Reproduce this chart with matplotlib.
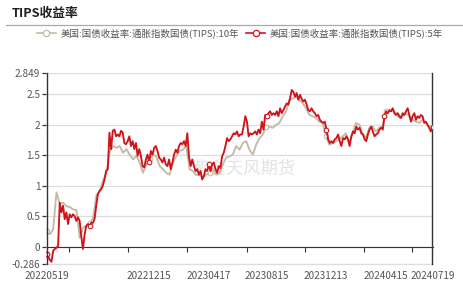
import matplotlib
matplotlib.use("Agg")
import matplotlib.pyplot as plt
import matplotlib.dates as mdates
from matplotlib.lines import Line2D
import pandas as pd

plt.rcParams['font.family'] = ['Noto Sans CJK SC', 'DejaVu Sans']

start_date = '2022-05-19'
end_date = '2024-07-19'

# 5Y TIPS yield
tips_5y = [
    -0.13, -0.16, -0.22, -0.25, -0.07, -0.04, -0.02, 0.01, 0.72, 0.56,
    0.67, 0.45, 0.56, 0.37, 0.53, 0.48, 0.53, 0.50, 0.42, 0.48,
    0.42, 0.17, -0.04, 0.20, 0.34, 0.37, 0.34, 0.39, 0.39, 0.45,
    0.67, 0.86, 0.91, 0.94, 1.00, 1.10, 1.24, 1.27, 1.87, 1.60,
    1.90, 1.92, 1.81, 1.84, 1.81, 1.90, 1.87, 1.70, 1.68, 1.73,
    1.81, 1.65, 1.73, 1.60, 1.70, 1.49, 1.60, 1.49, 1.32, 1.30,
    # 2022-11 .. 2023-05
    1.43, 1.51, 1.38, 1.57, 1.51, 1.62, 1.65, 1.57, 1.46, 1.43,
    1.38, 1.46, 1.35, 1.32, 1.43, 1.27, 1.38, 1.51, 1.59, 1.54,
    1.65, 1.70, 1.68, 1.73, 1.65, 1.86, 1.48, 1.32, 1.43, 1.32,
    1.24, 1.27, 1.18, 1.24, 1.10, 1.16, 1.27, 1.24, 1.35, 1.24,
    1.35, 1.38, 1.27, 1.21, 1.32, 1.29, 1.48, 1.54, 1.65, 1.78,
    1.73, 1.76, 1.81, 1.86, 1.84, 1.89, 1.81, 1.84,
    # 2023-06 .. 2023-12
    1.84, 1.97, 2.14, 2.05, 1.81, 1.86, 1.84, 1.86, 1.89, 1.84,
    1.92, 1.86, 2.05, 1.92, 2.16, 2.14, 2.19, 2.22, 2.16, 2.19,
    2.16, 2.22, 2.14, 2.27, 2.19, 2.24, 2.30, 2.35, 2.33, 2.43,
    2.57, 2.54, 2.46, 2.52, 2.41, 2.49, 2.43, 2.38, 2.41, 2.33,
    2.24, 2.22, 2.27, 2.22, 2.19, 2.14, 2.16, 2.08, 2.05, 2.03,
    2.05, 1.92, 1.76, 1.70, 1.73, 1.70, 1.76, 1.78,
    # 2023-12 .. 2024-07
    1.84, 1.73, 1.65, 1.78, 1.76, 1.81, 1.76, 1.65, 1.81, 1.89,
    1.86, 1.97, 1.92, 1.95, 1.86, 1.84, 1.76, 1.73, 1.84, 1.92,
    1.97, 1.89, 1.81, 1.84, 1.86, 1.92, 1.95, 1.92, 2.14, 2.22,
    2.19, 2.24, 2.22, 2.27, 2.19, 2.16, 2.19, 2.14, 2.11, 2.19,
    2.16, 2.22, 2.27, 2.16, 2.05, 2.14, 2.19, 2.08, 2.14, 2.11,
    2.16, 2.14, 2.03, 2.05, 2.00, 1.95, 1.89, 1.97,
]

# 10Y TIPS yield
tips_10y = [
    0.26, 0.20, 0.28, 0.89, 0.70, 0.72, 0.66, 0.65, 0.61, 0.60,
    0.14, 0.31, 0.34, 0.38, 0.47, 0.84, 0.92, 1.08, 1.22, 1.56,
    1.65, 1.62, 1.65, 1.54, 1.60, 1.51, 1.43, 1.49, 1.38, 1.21,
    1.35, 1.43, 1.51, 1.48, 1.32, 1.27, 1.21, 1.18, 1.38, 1.48,
    1.57, 1.59, 1.65, 1.27, 1.24, 1.17, 1.18, 1.13, 1.18, 1.21,
    1.27, 1.18, 1.21, 1.35, 1.46, 1.48, 1.51, 1.65, 1.59,
    1.70, 1.73, 1.59, 1.51, 1.67, 1.78, 1.84, 1.97, 1.97, 1.95,
    2.00, 2.03, 2.14, 2.22, 2.41, 2.43, 2.46, 2.41, 2.35, 2.27,
    2.16, 2.14, 2.11, 2.05, 2.03, 1.82, 1.67, 1.70, 1.73,
    1.76, 1.81, 1.86, 1.70, 1.86, 2.03, 2.00, 1.86, 1.78, 1.95,
    1.97, 1.89, 1.95, 1.97, 2.22, 2.22, 2.24, 2.19, 2.11, 2.14,
    2.19, 2.14, 2.08, 2.05, 2.03, 2.08, 2.03, 1.97, 1.97,
]

label_dates = ['2022-05-19', '2022-12-15', '2023-04-17', '2023-08-15',
               '2023-12-13', '2024-04-15', '2024-07-19']
tick_dates = ['2022-07-05', '2022-11-03', '2023-03-03', '2023-07-04',
              '2023-10-31', '2024-02-29', '2024-06-06']
y_ticks = [-0.286, 0, 0.5, 1, 1.5, 2, 2.5, 2.849]
y_labels = ['-0.286', '0', '0.5', '1', '1.5', '2', '2.5', '2.849']

name_10y = '美国:国债收益率:通胀指数国债(TIPS):10年'
name_5y = '美国:国债收益率:通胀指数国债(TIPS):5年'

red = '#d0141c'
tan = '#c5baa6'
txt = '#555555'
dark = '#333333'
grid = '#dddddd'

x5 = pd.date_range(start_date, end_date, periods=len(tips_5y))
x10 = pd.date_range(start_date, end_date, periods=len(tips_10y))

fig = plt.figure(figsize=(4.64, 2.82), dpi=100)
ax = fig.add_axes([46.5 / 464, 1 - 264 / 282, (432.5 - 46.5) / 464, (264 - 73) / 282])

mk5 = [0, 26, 62, 98, 133, 169, 204, len(tips_5y) - 1]
mk10 = [round(i * (len(tips_10y) - 1) / (len(tips_5y) - 1)) for i in mk5]

ax.plot(x10, tips_10y, color=tan, lw=1.35, marker='o', ms=3.3, mfc='white',
        mec=tan, mew=0.8, markevery=mk10, zorder=3)
ax.plot(x5, tips_5y, color=red, lw=1.35, marker='o', ms=3.3, mfc='white',
        mec=red, mew=0.8, markevery=mk5, zorder=4)

ax.set_xlim(pd.Timestamp(start_date), pd.Timestamp(end_date))
ax.set_ylim(y_ticks[0], y_ticks[-1])
ax.set_yticks(y_ticks)
ax.set_yticklabels(y_labels)
ax.tick_params(axis='y', length=3, width=0.9, color=dark, pad=1.5,
               labelsize=7.2, labelcolor=txt)
ax.grid(axis='y', color=grid, lw=0.9)
ax.set_axisbelow(True)

# x axis line sits at zero, with its own tick marks
ax.spines['bottom'].set_position(('data', 0))
ax.spines['bottom'].set_color(dark)
ax.set_xticks(pd.to_datetime(tick_dates))
ax.set_xticklabels([])
ax.tick_params(axis='x', length=3.5, width=0.8, color=dark)
ax.spines['top'].set_visible(False)
ax.spines['right'].set_color(dark)
ax.spines['right'].set_linewidth(1.0)
ax.spines['left'].set_visible(False)
# y axis line drawn explicitly at the left edge
ax.axvline(pd.Timestamp(start_date), color=dark, lw=1.0, zorder=6, clip_on=False)

# date labels along the bottom edge
lab = ax.secondary_xaxis('bottom')
lab.set_xticks(pd.to_datetime(label_dates))
lab.xaxis.set_major_formatter(mdates.DateFormatter('%Y%m%d'))
lab.tick_params(length=0, pad=5, labelsize=7.2, labelcolor=txt)
lab.spines['bottom'].set_color(grid)
lab.spines['bottom'].set_linewidth(0.9)

# watermark
ax.text(0.51, 0.5, '紫金天风期货', transform=ax.transAxes, ha='center',
        va='center', fontsize=12.5, color='#dcdcdc', alpha=0.8, zorder=2)

fig.text(12 / 464, 1 - 13 / 282, 'TIPS收益率', fontsize=9.2, fontweight='bold',
         color='#222222', va='center', ha='left')
fig.add_artist(Line2D([6 / 464, 1], [1 - 24.5 / 282] * 2, color='#aaaaaa', lw=0.9))

handles = [
    Line2D([], [], color=tan, lw=1.2, marker='o', ms=4.5, mfc='white', mec=tan, mew=0.9),
    Line2D([], [], color=red, lw=1.2, marker='o', ms=4.5, mfc='white', mec=red, mew=0.9),
]
fig.legend(handles, [name_10y, name_5y], loc='center',
           bbox_to_anchor=(240 / 464, 1 - 33 / 282), ncol=2, frameon=False,
           fontsize=6.8, labelcolor=txt, handlelength=2.0, handletextpad=0.5,
           columnspacing=0.8, borderaxespad=0, borderpad=0)

fig.savefig('out.png', dpi=100)
